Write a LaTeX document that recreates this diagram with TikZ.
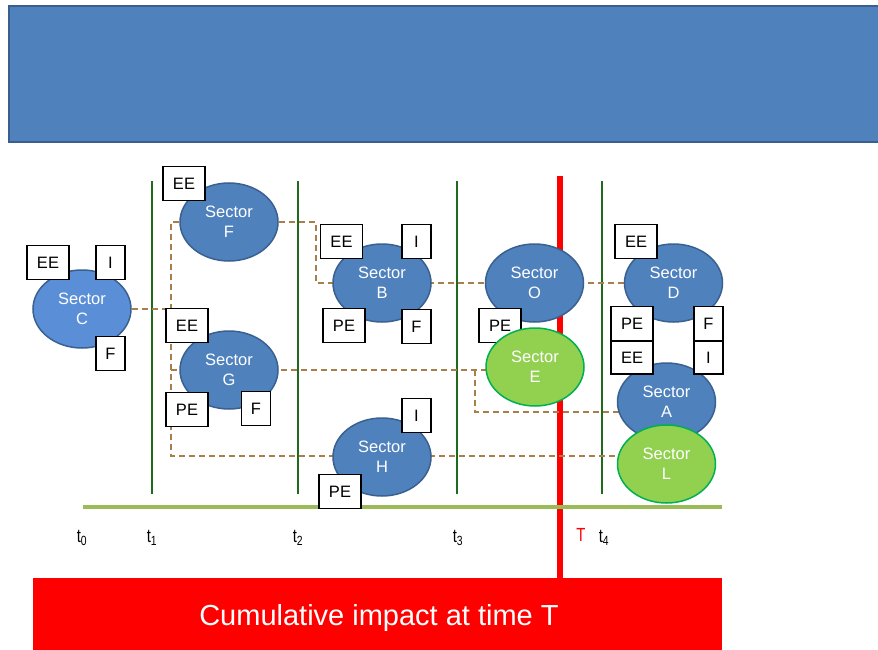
\documentclass[tikz,border=0pt]{standalone}
\usepackage{fontspec}
\setmainfont{Liberation Sans}
\usetikzlibrary{shapes.geometric,backgrounds}
\definecolor{secblue}{HTML}{4F81BD}
\definecolor{secborder}{HTML}{3A6090}
\definecolor{secC}{HTML}{5A8FD8}
\definecolor{secgreen}{HTML}{92D050}
\definecolor{greenborder}{HTML}{00B050}
\definecolor{tline}{HTML}{1E6B1E}
\definecolor{axisgreen}{HTML}{9BBB59}
\definecolor{linkbrown}{HTML}{A87E4A}
\definecolor{topborder}{HTML}{3A5F8E}
\begin{document}
\begin{tikzpicture}[x=1pt,y=-1pt,
  sector/.style={ellipse, draw=secborder, fill=secblue, line width=1.5pt,
    minimum width=98pt, minimum height=78pt, inner sep=0pt, text=white,
    align=center, font=\fontsize{16.5}{20}\selectfont},
  gsector/.style={sector, draw=greenborder, fill=secgreen},
  tagbox/.style={draw=black, fill=white, line width=1.6pt, minimum height=34pt,
    inner sep=0pt, font=\fontsize{16.5}{19}\selectfont},
  wtag/.style={tagbox, minimum width=42pt},
  ntag/.style={tagbox, minimum width=29pt},
  period/.style={draw=tline, line width=2.4pt},
  linkline/.style={draw=linkbrown, line width=1.4pt, dash pattern=on 6pt off 4pt},
  ticklbl/.style={font=\fontsize{19}{21}\selectfont, inner sep=0pt, xscale=0.78, transform shape}
]
\useasboundingbox (0,0) rectangle (878,650);

% sectors
\node[sector, fill=secC] (C) at (82,309) {Sector\\C};
\node[sector] (F) at (229,222) {Sector\\F};
\node[sector] (G) at (229,370) {Sector\\G};
\node[sector] (B) at (382,283) {Sector\\B};
\node[sector] (H) at (382,457) {Sector\\H};
\node[sector] (O) at (534.5,283) {Sector\\O};
\node[sector] (D) at (673.5,283) {Sector\\D};
\node[sector] (A) at (666.5,402) {Sector\\A};
\node[gsector] (L) at (666.5,464) {Sector\\L};
\node[wtag] (peO) at (500,325.5) {PE};
\node[gsector] (E) at (535,367) {Sector\\E};

% tags
\node[wtag] (eeC) at (48,262.5) {EE};
\node[ntag] (iC) at (110.5,262.5) {I};
\node[ntag] (fC) at (110.5,353.5) {F};
\node[wtag] (eeF) at (184,183.5) {EE};
\node[wtag] (eeG) at (187,325.5) {EE};
\node[wtag] (peG) at (187,409.5) {PE};
\node[ntag] (fG) at (256,408.5) {F};
\node[wtag] (eeB) at (341.5,241.5) {EE};
\node[ntag] (iB) at (416.5,241.5) {I};
\node[wtag] (peB) at (344,325.5) {PE};
\node[ntag] (fB) at (416.5,326.5) {F};
\node[ntag] (iH) at (416.5,415.5) {I};
\node[wtag] (peH) at (340,491.5) {PE};
\node[wtag] (eeD) at (636,241.5) {EE};
\node[wtag] (peD) at (632,323.5) {PE};
\node[wtag, minimum height=33pt] (eeD2) at (632,357.5) {EE};
\node[ntag] (fD) at (708.5,323.5) {F};
\node[ntag, minimum height=33pt] (iD) at (708.5,357.5) {I};

% time labels
\node[ticklbl] (t0) at (82,538) {t\textsubscript{0}};
\node[ticklbl] (t1) at (152,538) {t\textsubscript{1}};
\node[ticklbl] (t2) at (298,538) {t\textsubscript{2}};
\node[ticklbl] (t3) at (458,538) {t\textsubscript{3}};
\node[ticklbl, text=red] (T) at (581,535) {T};
\node[ticklbl] (t4) at (604,538) {t\textsubscript{4}};

\begin{pgfonlayer}{background}
  % top banner
  \draw[fill=secblue, draw=topborder, line width=1.5pt] (9,6) rectangle (890,142);
  % bottom bar
  \node[fill=red, minimum width=689pt, minimum height=80pt, inner sep=0pt,
        anchor=north west] (impact) at (33,578) {};
  \node[text=white, font=\fontsize{29}{32}\selectfont] (impacttext) at (379,618) {Cumulative impact at time T};
  % period lines
  \draw[period] (152,181) -- (152,494);
  \draw[period] (298,181) -- (298,494);
  \draw[period] (457,181) -- (457,494);
  \draw[period] (602,181) -- (602,494);
  % time T
  \draw[red, line width=5.5pt] (560,176) -- (560,578);
  % axis
  \draw[axisgreen, line width=4pt] (83,507) -- (722,507);
  % links
  \coordinate (sTop) at (171,222);
  \coordinate (sBot) at (171,456);
  \coordinate (fB1) at (316,222);
  \coordinate (fB2) at (316,283);
  \coordinate (gA1) at (475,370);
  \coordinate (gA2) at (475,412);
  \draw[linkline] (F.center) -- (sTop) -- (sBot) -- (H.center |- sBot) -- (L.center |- sBot);
  \draw[linkline] (C.center) -- (C.center -| sTop);
  \draw[linkline] (gA1 -| sTop) -- (G.center) -- (gA1) -- (E.center |- gA1);
  \draw[linkline] (gA1) -- (gA2) -- (A.center |- gA2);
  \draw[linkline] (F.center) -- (fB1) -- (fB2) -- (B.center) -- (O.center) -- (D.center);
\end{pgfonlayer}
\end{tikzpicture}
\end{document}
